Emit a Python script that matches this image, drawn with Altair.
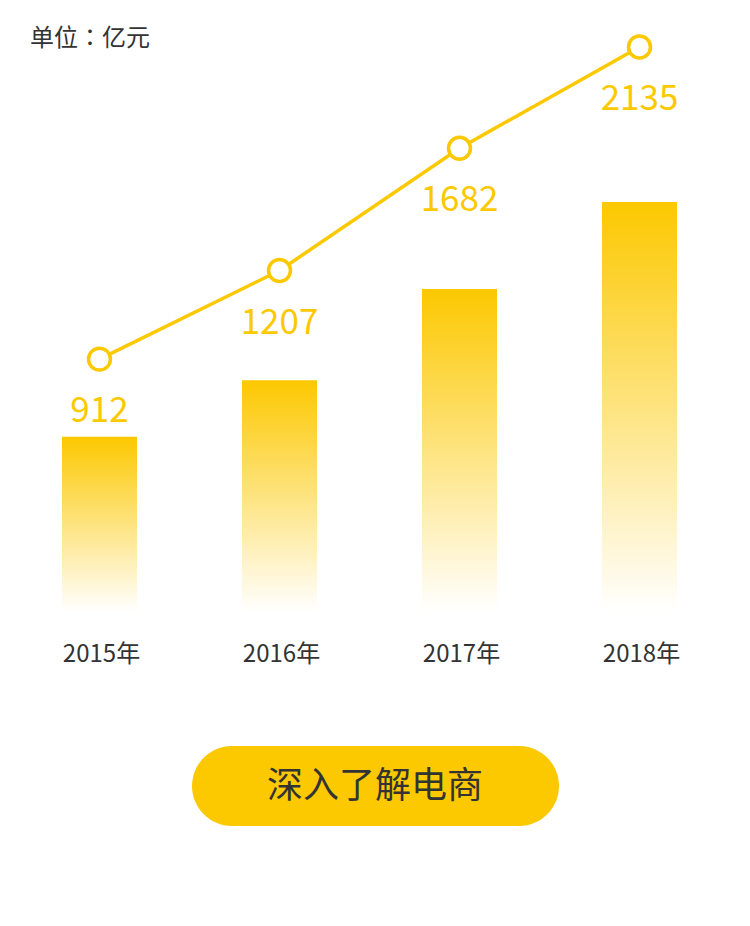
import altair as alt
import pandas as pd

years = ["2015年", "2016年", "2017年", "2018年"]
values = [912, 1207, 1682, 2135]
unit_text = "单位：亿元"
button_text = "深入了解电商"

YELLOW = "#FCC800"
DARK = "#333333"
FONT = "Noto Sans CJK SC"

df = pd.DataFrame({"year": years, "value": values})
vmax = max(values)

x_enc = alt.X(
    "year:N",
    sort=years,
    axis=None,
    scale=alt.Scale(range=[9.5, 729.5], paddingInner=0.58333, paddingOuter=0.291667),
)

bar_y = alt.Scale(domain=[0, vmax], range=[612, 202], nice=False, zero=True)
line_y = alt.Scale(type="sqrt", domain=[0, vmax], range=[948, 47], nice=False)

base = alt.Chart(df)

bars = base.mark_bar(
    color=alt.Gradient(
        gradient="linear",
        stops=[
            alt.GradientStop(color=YELLOW, offset=0),
            alt.GradientStop(color="#FFFFFF", offset=1),
        ],
        x1=0, x2=0, y1=0, y2=1,
    )
).encode(x=x_enc, y=alt.Y("value:Q", scale=bar_y, axis=None))

line = base.mark_line(color=YELLOW, strokeWidth=3.5).encode(
    x=x_enc, y=alt.Y("value:Q", scale=line_y, axis=None)
)
points = base.mark_point(
    shape="circle", filled=True, fill="white", stroke=YELLOW,
    strokeWidth=3.5, size=480, opacity=1, fillOpacity=1, strokeOpacity=1,
).encode(x=x_enc, y=alt.Y("value:Q", scale=line_y, axis=None))
labels = base.mark_text(
    color=YELLOW, font=FONT, fontSize=35, baseline="alphabetic", align="center", dy=63
).encode(x=x_enc, y=alt.Y("value:Q", scale=line_y, axis=None), text="value:Q")

line_layer = alt.layer(line, points, labels)

xlabels = base.mark_text(
    color=DARK, font=FONT, fontSize=24, baseline="alphabetic", align="center", dx=2
).encode(x=x_enc, y=alt.value(662), text="year:N")

unit = alt.Chart(pd.DataFrame({"t": [unit_text]})).mark_text(
    color=DARK, font="Noto Sans CJK TC", fontSize=24, baseline="alphabetic", align="left"
).encode(x=alt.value(30), y=alt.value(46), text="t:N")

button = alt.Chart(pd.DataFrame({"t": [button_text]})).mark_rect(
    color=YELLOW, cornerRadius=40
).encode(x=alt.value(192), x2=alt.value(559), y=alt.value(746), y2=alt.value(826))

button_label = alt.Chart(pd.DataFrame({"t": [button_text]})).mark_text(
    color=DARK, font=FONT, fontSize=36, baseline="middle", align="center"
).encode(x=alt.value(375), y=alt.value(787), text="t:N")

chart = (
    alt.layer(bars, line_layer, xlabels, unit, button, button_label)
    .resolve_scale(y="independent")
    .properties(width=750, height=926, padding=0, autosize=alt.AutoSizeParams(type="none"),
                background="white")
    .configure_view(stroke=None)
)

chart.save("out.html", embed_options={"renderer": "svg", "actions": False})
